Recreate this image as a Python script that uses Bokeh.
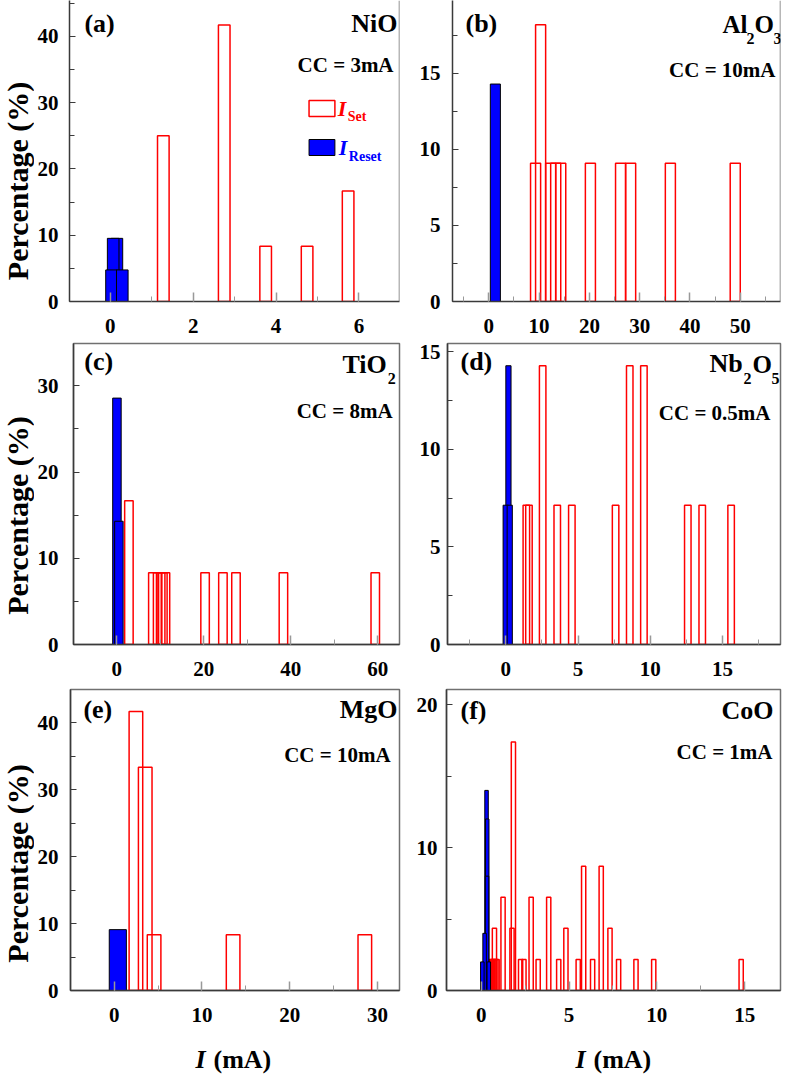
import math
from bokeh.plotting import figure
from bokeh.layouts import column, row
from bokeh.models import Label, BoxAnnotation, Span, SingleIntervalTicker, Range1d
from bokeh.embed import file_html
from bokeh.resources import INLINE

FONT = "Liberation Serif"
RED = "#ff0000"
BLUE = "#0000ff"

# ---------------- data (percentages) ----------------
# (a) NiO
a_set_x = [1.28, 2.75, 3.75, 4.75, 5.74]
a_set_y = [25.0, 41.67, 8.33, 8.33, 16.67]
a_reset_x = [0.16, 0.07, 0.03, 0.29]
a_reset_y = [9.52, 9.52, 4.76, 4.76]
# (b) Al2O3
b_set_x = [9.3, 10.3, 12.3, 13.3, 14.3, 20.2, 26.2, 28.2, 36.1, 49.0]
b_set_y = [9.09, 18.18, 9.09, 9.09, 9.09, 9.09, 9.09, 9.09, 9.09, 9.09]
b_reset_x = [1.3]
b_reset_y = [14.29]
# (c) TiO2
c_set_x = [2.8, 8.3, 9.4, 10.1, 10.6, 11.2, 20.3, 24.4, 27.4, 38.3, 59.4]
c_set_y = [16.67, 8.33, 8.33, 8.33, 8.33, 8.33, 8.33, 8.33, 8.33, 8.33, 8.33]
c_reset_x = [0.05, 0.5]
c_reset_y = [28.57, 14.29]
# (d) Nb2O5
d_set_x = [1.42, 1.6, 2.55, 3.56, 4.57, 7.6, 8.58, 9.56, 12.6, 13.6, 15.6]
d_set_y = [7.14, 7.14, 14.29, 7.14, 7.14, 7.14, 14.29, 14.29, 7.14, 7.14, 7.14]
d_reset_x = [0.18, -0.01, 0.27]
d_reset_y = [14.29, 7.14, 7.14]
# (e) MgO
e_set_x = [2.48, 3.54, 4.55, 13.55, 28.55]
e_set_y = [41.67, 33.33, 8.33, 8.33, 8.33]
e_reset_x = [0.42]
e_reset_y = [9.09]
# (f) CoO
f_set_x = [0.58, 0.65, 0.72, 0.75, 0.83, 0.9, 1.24, 1.75, 1.83, 2.24, 2.43, 2.84, 3.24,
           3.84, 4.41, 4.82, 5.52, 5.83, 6.34, 6.83, 7.33, 7.82, 8.81, 9.82, 14.8]
f_set_y = [2.17, 2.17, 2.17, 4.35, 2.17, 2.17, 6.52, 4.35, 17.39, 2.17, 2.17, 6.52, 2.17,
           6.52, 2.17, 4.35, 2.17, 8.70, 2.17, 8.70, 4.35, 2.17, 2.17, 2.17, 2.17]
f_reset_x = [0.30, 0.34, 0.33, 0.19, 0.06, 0.43]
f_reset_y = [14.0, 12.0, 8.0, 4.0, 2.0, 2.0]

Y_TITLE = "Percentage (%)"
X_TITLE_I = "I"
X_TITLE_UNIT = "(mA)"

# ---------------- layout constants (page pixels) ----------------
YLAB_W = 34
LEFT_W, RIGHT_W = 369, 381
ROWS = [(339, 0, 38, 0), (345, 4, 40, 339), (346, 5, 40, 684)]  # h, top, bottom border, page top
XLAB_H = 46
XLAB_TOP = 1030
MID = 0.3375  # distance baseline -> middle of the text box, in em


def to_data(box, xr, yr, px, py):
    L, T, R, B = box
    x = xr[0] + (px - L) / (R - L) * (xr[1] - xr[0])
    y = yr[0] + (B - py) / (B - T) * (yr[1] - yr[0])
    return x, y


def text(p, box, xr, yr, px, base_y, s, size, align="left", style="bold",
         color="black"):
    x, y = to_data(box, xr, yr, px, base_y - MID * size)
    p.add_layout(Label(x=x, y=y, text=s, text_font=FONT, text_font_style=style,
                       text_font_size=f"{size}px", text_color=color,
                       text_align=align, text_baseline="middle"))


def blank_fig(w, h):
    p = figure(width=w, height=h, x_range=Range1d(0, w), y_range=Range1d(0, h),
               output_backend="svg", toolbar_location=None, min_border=0,
               min_border_left=0, min_border_right=0, min_border_top=0,
               min_border_bottom=0)
    p.xaxis.visible = False
    p.yaxis.visible = False
    p.xgrid.visible = False
    p.ygrid.visible = False
    p.outline_line_color = None
    p.background_fill_color = "white"
    p.border_fill_color = "white"
    return p


def panel(box, col_left, row_idx, xr, yr, xint, yint, set_x, set_y, set_w,
          reset_x, reset_y, reset_w, ystand):
    L, T, R, B = box
    h, tb, bb, _ = ROWS[row_idx]
    if col_left:
        w, lb = LEFT_W, L - YLAB_W
    else:
        w, lb = RIGHT_W, L - (YLAB_W + LEFT_W)
    rb = w - lb - (R - L)
    p = figure(width=w, height=h, x_range=Range1d(*xr), y_range=Range1d(*yr),
               output_backend="svg", toolbar_location=None,
               min_border_left=lb, min_border_right=rb,
               min_border_top=tb, min_border_bottom=bb)
    p.xgrid.visible = False
    p.ygrid.visible = False
    p.background_fill_color = "white"
    p.border_fill_color = "white"
    if row_idx == 0:
        p.outline_line_color = None
        p.add_layout(Span(location=xr[1], dimension="height",
                          line_color="#707070", line_width=1.5))
    else:
        p.outline_line_color = "#707070"
        p.outline_line_width = 1.5

    xa, ya = p.xaxis[0], p.yaxis[0]
    xa.ticker = SingleIntervalTicker(interval=xint, num_minor_ticks=2)
    ya.ticker = SingleIntervalTicker(interval=yint, num_minor_ticks=2)
    for ax in (xa, ya):
        ax.major_label_text_font = FONT
        ax.major_label_text_font_style = "bold"
        ax.major_label_text_font_size = "21px"
        ax.major_label_text_color = "black"
        ax.axis_line_color = "#3a3a3a"
        ax.axis_line_width = 1.5
        ax.major_tick_out = 0
        ax.minor_tick_out = 0
    ya.major_tick_in = 6
    ya.minor_tick_in = 5
    ya.major_tick_line_color = "#3a3a3a"
    ya.minor_tick_line_color = "#3a3a3a"
    ya.major_label_standoff = ystand
    xa.major_tick_in = 9
    xa.minor_tick_in = 5
    xa.major_tick_line_color = "#999999"
    xa.minor_tick_line_color = "#999999"
    xa.major_tick_line_width = 1.5
    xa.major_label_standoff = 17

    p.vbar(x=set_x, top=set_y, bottom=0, width=set_w, fill_color=None,
           line_color=RED, line_width=1.5)
    p.vbar(x=reset_x, top=reset_y, bottom=0, width=reset_w, fill_color=BLUE,
           line_color="black", line_width=1)
    return p


A = (67, 0, 399, 301)
B = (452, 0, 780, 301)
C = (67, 343, 399, 644)
D = (447, 343, 780, 644)
E = (67, 689, 399, 990)
F = (446, 689, 780, 990)

A_xr, A_yr = (-0.984, 6.98), (0, 45.38)
B_xr, B_yr = (-7.22, 58.0), (0, 19.78)
C_xr, C_yr = (-9.93, 64.97), (0, 34.9)
D_xr, D_yr = (-4.04, 19.02), (0, 15.43)
E_xr, E_yr = (-4.97, 32.5), (0, 44.95)
F_xr, F_yr = (-1.98, 17.04), (0, 21.06)

pa = panel(A, True, 0, A_xr, A_yr, 2, 10, a_set_x, a_set_y, 0.28, a_reset_x, a_reset_y, 0.28, 11)
pb = panel(B, False, 0, B_xr, B_yr, 10, 5, b_set_x, b_set_y, 2.0, b_reset_x, b_reset_y, 2.0, 12)
pc = panel(C, True, 1, C_xr, C_yr, 20, 10, c_set_x, c_set_y, 1.95, c_reset_x, c_reset_y, 1.95, 15)
pd = panel(D, False, 1, D_xr, D_yr, 5, 5, d_set_x, d_set_y, 0.45, d_reset_x, d_reset_y, 0.36, 7)
pe = panel(E, True, 2, E_xr, E_yr, 10, 10, e_set_x, e_set_y, 1.55, e_reset_x, e_reset_y, 1.95, 12)
pf = panel(F, False, 2, F_xr, F_yr, 5, 10, f_set_x, f_set_y, 0.24, f_reset_x, f_reset_y, 0.2, 9)

# ---- panel texts (positions: left/right x and baseline y, page pixels) ----
text(pa, A, A_xr, A_yr, 82, 32, "(a)", 26)
text(pa, A, A_xr, A_yr, 397, 32, "NiO", 26, align="right")
text(pa, A, A_xr, A_yr, 393, 72, "CC = 3mA", 21, align="right")
# legend
x0, y0 = to_data(A, A_xr, A_yr, 308, 100)
x1, y1 = to_data(A, A_xr, A_yr, 334, 116)
pa.add_layout(BoxAnnotation(left=x0, right=x1, top=y0, bottom=y1, fill_color=None,
                            line_color=RED, line_width=1.5, line_alpha=1))
x0, y0 = to_data(A, A_xr, A_yr, 308, 139)
x1, y1 = to_data(A, A_xr, A_yr, 334, 155)
pa.add_layout(BoxAnnotation(left=x0, right=x1, top=y0, bottom=y1, fill_color=BLUE,
                            fill_alpha=1, line_color="black", line_width=1, line_alpha=1))
text(pa, A, A_xr, A_yr, 337, 115, "I", 22, style="bold italic", color=RED)
text(pa, A, A_xr, A_yr, 347, 121, "Set", 14, color=RED)
text(pa, A, A_xr, A_yr, 338, 154, "I", 22, style="bold italic", color=BLUE)
text(pa, A, A_xr, A_yr, 348, 161, "Reset", 14, color=BLUE)

text(pb, B, B_xr, B_yr, 465, 32, "(b)", 26)
text(pb, B, B_xr, B_yr, 722, 32, "Al", 25)
text(pb, B, B_xr, B_yr, 746, 43, "2", 16)
text(pb, B, B_xr, B_yr, 754, 32, "O", 25)
text(pb, B, B_xr, B_yr, 773, 43, "3", 16)
text(pb, B, B_xr, B_yr, 775, 77, "CC = 10mA", 21, align="right")

text(pc, C, C_xr, C_yr, 78, 370, "(c)", 26)
text(pc, C, C_xr, C_yr, 386, 373, "TiO", 26, align="right")
text(pc, C, C_xr, C_yr, 387, 383, "2", 16)
text(pc, C, C_xr, C_yr, 392, 418, "CC = 8mA", 21, align="right")

text(pd, D, D_xr, D_yr, 460, 370, "(d)", 26)
text(pd, D, D_xr, D_yr, 709, 372, "Nb", 26)
text(pd, D, D_xr, D_yr, 743, 383, "2", 16)
text(pd, D, D_xr, D_yr, 752, 372, "O", 25)
text(pd, D, D_xr, D_yr, 771, 383, "5", 16)
text(pd, D, D_xr, D_yr, 770, 420, "CC = 0.5mA", 21, align="right")

text(pe, E, E_xr, E_yr, 80, 718, "(e)", 26)
text(pe, E, E_xr, E_yr, 397, 718, "MgO", 26, align="right")
text(pe, E, E_xr, E_yr, 390, 762, "CC = 10mA", 21, align="right")

text(pf, F, F_xr, F_yr, 460, 719, "(f)", 26)
text(pf, F, F_xr, F_yr, 773, 719, "CoO", 26, align="right")
text(pf, F, F_xr, F_yr, 772, 759, "CC = 1mA", 21, align="right")

# ---- axis titles, in separate title strips ----
ylabs = []
YSIZE = 30
ROT_SHIFT = 36  # measured offset of rotated labels along the page y direction
for (h, _, _, top), ybot in zip(ROWS, (279, 614, 962)):
    q = blank_fig(YLAB_W, h)
    q.add_layout(Label(x=27 - MID * YSIZE, y=(top + h) - (ybot + ROT_SHIFT), text=Y_TITLE,
                       text_font=FONT, text_font_style="bold",
                       text_font_size=f"{YSIZE}px", text_color="black",
                       text_align="left", text_baseline="middle",
                       angle=math.pi / 2))
    ylabs.append(q)

xlab = blank_fig(YLAB_W + LEFT_W + RIGHT_W, XLAB_H)
XSIZE = 26
ay = (XLAB_TOP + XLAB_H) - (1068 - MID * XSIZE)
for left_i, left_u in ((195, 213), (575, 593)):
    xlab.add_layout(Label(x=left_i, y=ay, text=X_TITLE_I,
                          text_font=FONT, text_font_style="bold italic",
                          text_font_size=f"{XSIZE}px", text_color="black",
                          text_baseline="middle"))
    xlab.add_layout(Label(x=left_u, y=ay, text=X_TITLE_UNIT,
                          text_font=FONT, text_font_style="bold",
                          text_font_size=f"{XSIZE}px", text_color="black",
                          text_baseline="middle"))

layout = column(row(ylabs[0], pa, pb), row(ylabs[1], pc, pd),
                row(ylabs[2], pe, pf), xlab)
open("out.html", "w").write(file_html(layout, INLINE))
